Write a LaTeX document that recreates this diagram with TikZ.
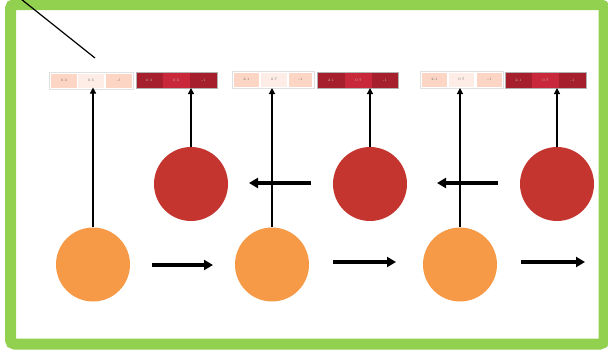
\documentclass[tikz,border=0pt]{standalone}
\usetikzlibrary{arrows.meta}
\definecolor{framegreen}{HTML}{92D050}
\definecolor{inorange}{HTML}{F79A47}
\definecolor{hidred}{HTML}{C4352F}
\definecolor{lightA}{HTML}{FDD5C4}
\definecolor{lightB}{HTML}{FEEDE6}
\definecolor{darkA}{HTML}{A51F2D}
\definecolor{darkB}{HTML}{C9283A}
\tikzset{
  cellbox/.style={minimum height=14pt, inner sep=0pt, outer sep=0pt,
    font=\fontsize{3.5}{4}\selectfont, text=black!60},
  lcellA/.style={cellbox, fill=lightA},
  lcellB/.style={cellbox, fill=lightB},
  dcellA/.style={cellbox, fill=darkA, minimum height=16pt, text=white!80!black},
  dcellB/.style={cellbox, fill=darkB, minimum height=16pt, text=white!80!black},
  unit/.style={circle, minimum size=74pt, inner sep=0pt},
  inunit/.style={unit, fill=inorange},
  hidunit/.style={unit, fill=hidred},
  uparrow/.style={-{Triangle[length=6pt,width=6pt]}, line width=1.2pt},
  steparrow/.style={-{Triangle[length=9pt,width=10pt]}, line width=3.5pt},
  lightframe/.style={draw=black!12, line width=0.6pt},
  darkframe/.style={draw=black!30, line width=0.6pt}
}
\begin{document}
\begin{tikzpicture}[x=1pt,y=-1pt]
\useasboundingbox (0,0) rectangle (608,351);
% outer frame
\draw[framegreen, line width=11pt, rounded corners=4pt] (10.5,4.5) rectangle (604,344);
% diagonal stroke in the corner
\coordinate (ds) at (21,-1);
\coordinate (de) at (95,58);
\draw[line width=1.2pt] (ds) -- (de);

% ---- group 1 tables
\node[lcellA, minimum width=26pt] (l1a) at (64,80.5) {0.3};
\node[lcellB, minimum width=26pt] (l1b) at (91,80.5) {0.5};
\node[lcellA, minimum width=26pt] (l1c) at (119,80.5) {-1};
\draw[lightframe] (49,72.5) rectangle (133,89.5);
\coordinate (lb1) at (91,90);
\node[dcellA, minimum width=26.5pt] (d1a) at (149.25,80) {0.3};
\node[dcellB, minimum width=27.5pt] (d1b) at (176.25,80) {0.5};
\node[dcellA, minimum width=27pt] (d1c) at (203.5,80) {-1};
\draw[darkframe] (d1a.north west) rectangle (d1c.south east);

% ---- group 2 tables
\node[lcellA, minimum width=25pt] (l2a) at (246.5,79.5) {2.1};
\node[lcellB, minimum width=26pt] (l2b) at (274,79.5) {0.7};
\node[lcellA, minimum width=23pt] (l2c) at (300.5,79.5) {-1};
\draw[lightframe] (232,71.5) rectangle (314,88.5);
\node[dcellA, minimum width=28pt] (d2a) at (331,80) {2.1};
\node[dcellB, minimum width=27pt] (d2b) at (358.5,80) {0.7};
\node[dcellA, minimum width=26pt] (d2c) at (385,80) {-1};
\draw[darkframe] (d2a.north west) rectangle (d2c.south east);

% ---- group 3 tables
\node[lcellA, minimum width=25pt] (l3a) at (434.5,79.5) {2.1};
\node[lcellB, minimum width=25pt] (l3b) at (461.5,79.5) {0.7};
\node[lcellA, minimum width=25pt] (l3c) at (489.5,79.5) {-1};
\draw[lightframe] (420,71.5) rectangle (503,88.5);
\node[dcellA, minimum width=27pt] (d3a) at (518.5,80) {2.1};
\node[dcellB, minimum width=27pt] (d3b) at (545.5,80) {0.7};
\node[dcellA, minimum width=27pt] (d3c) at (572.5,80) {-1};
\draw[darkframe] (d3a.north west) rectangle (d3c.south east);

% ---- units
\node[inunit] (o1) at (93,264.5) {};
\node[inunit] (o2) at (272,264.5) {};
\node[inunit] (o3) at (460,264.5) {};
\node[hidunit] (r1) at (191,184) {};
\node[hidunit] (r2) at (370,184) {};
\node[hidunit] (r3) at (557,184) {};

% ---- outputs up to the tables
\draw[uparrow] (o1.north) -- (o1.north |- l1b.south);
\draw[uparrow] (r1.north) -- (r1.north |- d1b.south);
\draw[uparrow] (o2.north) -- (o2.north |- d2b.south);
\draw[uparrow] (r2.north) -- (r2.north |- d2b.south);
\draw[uparrow] (o3.north) -- (o3.north |- d3b.south);
\draw[uparrow] (r3.north) -- (r3.north |- d3b.south);

% ---- forward steps between input units
\coordinate (f1s) at (152,265); \coordinate (f1e) at (213,265);
\coordinate (f2s) at (333,262); \coordinate (f2e) at (396,262);
\coordinate (f3s) at (521,262); \coordinate (f3e) at (585,262);
\draw[steparrow] (f1s) -- (f1e);
\draw[steparrow] (f2s) -- (f2e);
\draw[steparrow] (f3s) -- (f3e);

% ---- backward steps between hidden units
\coordinate (b1s) at (311,183); \coordinate (b1e) at (249,183);
\coordinate (b2s) at (498,183); \coordinate (b2e) at (437,183);
\draw[steparrow] (b1s) -- (b1e);
\draw[steparrow] (b2s) -- (b2e);
\end{tikzpicture}
\end{document}
